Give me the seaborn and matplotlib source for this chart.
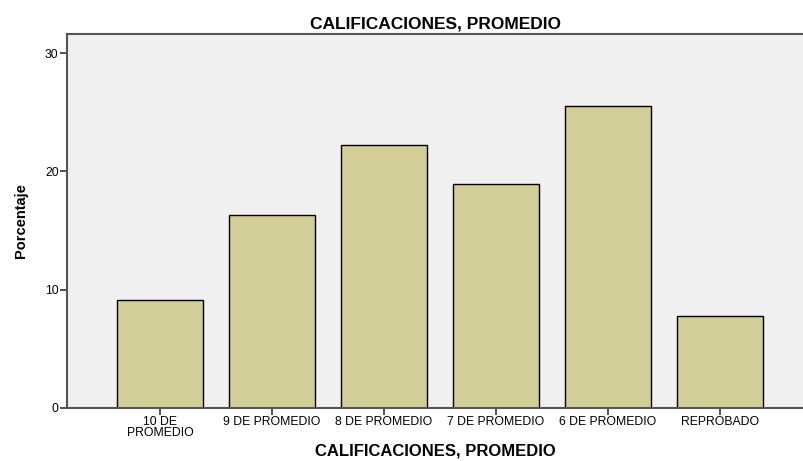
import matplotlib
matplotlib.use("Agg")
import matplotlib.pyplot as plt
import seaborn as sns
import pandas as pd

# datos
categorias = ["10 DE\nPROMEDIO", "9 DE PROMEDIO", "8 DE PROMEDIO",
              "7 DE PROMEDIO", "6 DE PROMEDIO", "REPROBADO"]
porcentajes = [9.1, 16.3, 22.2, 18.9, 25.5, 7.8]

df = pd.DataFrame({"cat": categorias, "pct": porcentajes})

sns.set_style("white")
plt.rcParams["font.family"] = ["Liberation Sans", "DejaVu Sans"]
plt.rcParams["text.color"] = "black"
plt.rcParams["axes.labelcolor"] = "black"
plt.rcParams["xtick.color"] = "black"
plt.rcParams["ytick.color"] = "black"

fig = plt.figure(figsize=(8.04, 4.61), dpi=100)
ax = fig.add_axes([0.0833, 0.115, 0.9167, 0.811])
ax.set_facecolor("#f0f0f0")

sns.barplot(data=df, x="cat", y="pct", color="#d3ce97", saturation=1,
            edgecolor="black", linewidth=1.0, width=0.76, ax=ax)

ax.set_xlim(-0.83, 5.75)
ax.set_ylim(0, 31.6)
ax.set_yticks([0, 10, 20, 30])

ax.set_title("CALIFICACIONES, PROMEDIO", fontsize=12.5, fontweight="bold", pad=4)
ax.set_xlabel("CALIFICACIONES, PROMEDIO", fontsize=12, fontweight="bold", labelpad=3)
ax.set_ylabel("Porcentaje", fontsize=10.5, fontweight="bold", labelpad=12)

ax.tick_params(axis="both", labelsize=8.8, length=5, width=1.2, color="#333333",
               direction="out", pad=1)
ax.tick_params(axis="x", bottom=True)
ax.tick_params(axis="y", left=True)
for lbl in ax.get_xticklabels():
    lbl.set_linespacing(0.85)

for s in ["left", "bottom", "top"]:
    ax.spines[s].set_color("#555555")
    ax.spines[s].set_linewidth(1.5)
ax.spines["right"].set_visible(False)

fig.savefig("out.png", dpi=100)
